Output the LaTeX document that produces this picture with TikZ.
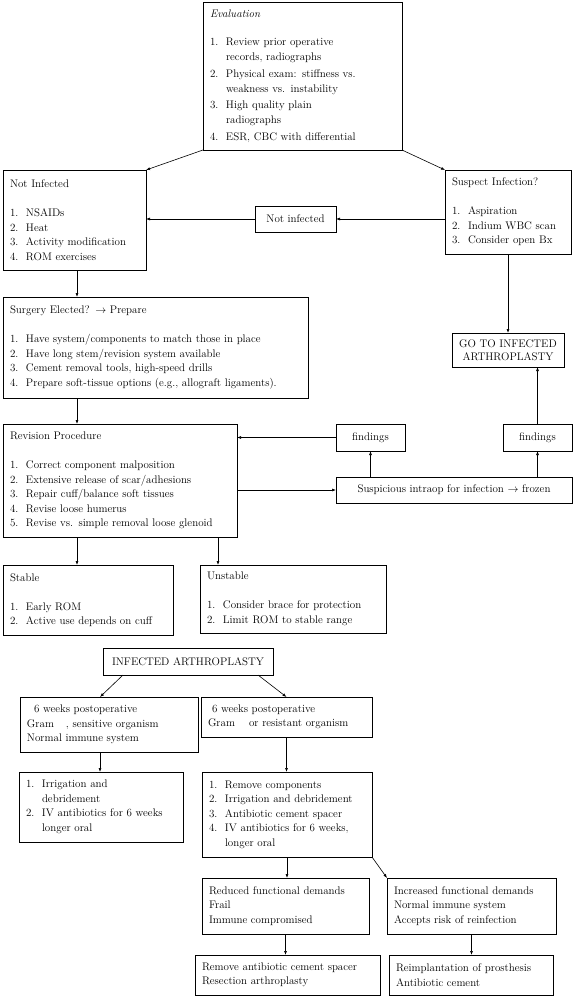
\documentclass[tikz,border=0pt]{standalone}
\usetikzlibrary{arrows.meta,calc}
\newcommand\fs{\fontsize{11}{14.5}\selectfont}
\newcommand\li[1]{\makebox[16pt][l]{#1}}
\newcommand\ci{\hspace*{16pt}}
\tikzset{
  box/.style={draw, line width=0.6pt, anchor=north west, inner xsep=7pt, inner ysep=2pt, align=left, font=\fs, outer sep=0pt},
  cbox/.style={draw, line width=0.6pt, anchor=north west, inner sep=2pt, align=center, font=\fs, outer sep=0pt},
  arr/.style={line width=0.6pt, -{Latex[length=4pt,width=3pt]}}
}
\begin{document}
\begin{tikzpicture}[x=1pt,y=-1pt]
\useasboundingbox (0,0) rectangle (575,1000);
% top part
\node[box, text width=185pt, minimum height=148pt, font=\fontsize{11}{15}\selectfont] (eval) at (203,2) {\textit{Evaluation}\\[13pt]
\li{1.}Review prior operative\\ \ci records, radiographs\\[1.5pt]
\li{2.}Physical exam: stiffness vs.\\ \ci weakness vs. instability\\[1.5pt]
\li{3.}High quality plain\\ \ci radiographs\\[1.5pt]
\li{4.}ESR, CBC with differential};
\node[box, text width=129pt, minimum height=100pt] (notinf) at (3,170) {Not Infected\\[14.5pt]
\li{1.}NSAIDs\\ \li{2.}Heat\\ \li{3.}Activity modification\\ \li{4.}ROM exercises};
\node[box, text width=112pt, minimum height=84pt] (susp) at (445,170) {Suspect Infection?\\[14.5pt]
\li{1.}Aspiration\\ \li{2.}Indium WBC scan\\ \li{3.}Consider open Bx};
\node[cbox, minimum width=81pt, minimum height=26pt] (nis) at (255,206) {Not infected};
\node[cbox, minimum width=112pt, minimum height=34pt, font=\fontsize{11}{13}\selectfont] (goto) at (452,333) {GO TO INFECTED\\ARTHROPLASTY};
\node[box, text width=291pt, minimum height=101pt] (surg) at (3,297) {Surgery Elected? $\rightarrow$ Prepare\\[14.5pt]
\li{1.}Have system/components to match those in place\\
\li{2.}Have long stem/revision system available\\
\li{3.}Cement removal tools, high-speed drills\\
\li{4.}Prepare soft-tissue options (e.g., allograft ligaments).};
\node[box, text width=220pt, minimum height=113pt] (rev) at (3,424) {Revision Procedure\\[14.5pt]
\li{1.}Correct component malposition\\
\li{2.}Extensive release of scar/adhesions\\
\li{3.}Repair cuff/balance soft tissues\\
\li{4.}Revise loose humerus\\
\li{5.}Revise vs. simple removal loose glenoid};
\node[cbox, minimum width=69pt, minimum height=27pt] (f1) at (336,424) {findings};
\node[cbox, minimum width=69pt, minimum height=27pt] (f2) at (503,424) {findings};
\node[cbox, minimum width=236pt, minimum height=26pt] (intra) at (336,477) {Suspicious intraop for infection $\rightarrow$ frozen};
\node[box, text width=156pt, minimum height=70pt] (stab) at (3,565) {Stable\\[14.5pt]
\li{1.}Early ROM\\ \li{2.}Active use depends on cuff};
\node[box, text width=172pt, minimum height=68pt] (unst) at (200,565) {Unstable\\[14.5pt]
\li{1.}Consider brace for protection\\ \li{2.}Limit ROM to stable range};
% bottom part
\node[cbox, minimum width=170pt, minimum height=27pt] (inf) at (103,648) {INFECTED ARTHROPLASTY};
\node[box, text width=164pt, minimum height=55pt] (six1) at (20,697) {\hspace*{7pt}6 weeks postoperative\\
Gram\hspace{12pt}, sensitive organism\\ Normal immune system};
\node[box, text width=157pt, minimum height=40pt] (six2) at (201,697) {\hspace*{4pt}6 weeks postoperative\\
Gram\hspace{14pt}or resistant organism};
\node[box, text width=150pt, minimum height=70pt] (irr) at (19,772) {\li{1.}Irrigation and\\ \ci debridement\\
\li{2.}IV antibiotics for 6 weeks\\ \ci longer oral};
\node[box, text width=156pt, minimum height=85pt] (rem) at (202,772) {\li{1.}Remove components\\
\li{2.}Irrigation and debridement\\ \li{3.}Antibiotic cement spacer\\
\li{4.}IV antibiotics for 6 weeks,\\ \ci longer oral};
\node[box, text width=153pt, minimum height=56pt] (red) at (202,878) {Reduced functional demands\\ Frail\\ Immune compromised};
\node[box, text width=155pt, minimum height=56pt] (inc) at (387,878) {Increased functional demands\\ Normal immune system\\ Accepts risk of reinfection};
\node[box, text width=171pt, minimum height=40pt] (spc) at (195,955) {Remove antibiotic cement spacer\\ Resection arthroplasty};
\node[box, text width=150pt, minimum height=40pt] (reimp) at (389,955) {Reimplantation of prosthesis\\ Antibiotic cement};
% coordinates
\coordinate (x77) at (77,0);
\coordinate (x218) at (218,0);
\coordinate (x100) at (100,0);
% connectors
\draw[arr] (eval.south west) -- (notinf.north east);
\draw[arr] (eval.south east) -- (susp.north west);
\draw[arr] (susp.west |- nis.east) -- (nis.east);
\draw[arr] (nis.west) -- (notinf.east |- nis.west);
\draw[arr] (susp.south) -- (goto.north -| susp.south);
\draw[arr] (notinf.south -| x77) -- (surg.north -| x77);
\draw[arr] (surg.south -| x77) -- (rev.north -| x77);
\draw[arr] (f1.west) -- (rev.east |- f1.west);
\draw[arr] (rev.east |- intra.west) -- (intra.west);
\draw[arr] (intra.north -| f1.south) -- (f1.south);
\draw[arr] (intra.north -| f2.south) -- (f2.south);
\draw[arr] (f2.north) -- (goto.south -| f2.north);
\draw[arr] (rev.south -| x77) -- (stab.north -| x77);
\draw[arr] (rev.south -| x218) -- (unst.north -| x218);
\draw[arr] ($(inf.south west)+(20,0)$) -- (six1.north -| x100);
\draw[arr] ($(inf.south east)+(-15,0)$) -- (six2.north);
\draw[arr] (six1.south -| x100) -- (irr.north -| x100);
\draw[arr] (six2.south) -- (rem.north -| six2.south);
\draw[arr] (rem.south) -- (red.north -| rem.south);
\draw[arr] (rem.south east) -- (inc.north west);
\draw[arr] (red.south) -- (spc.north -| red.south);
\draw[arr] (inc.south) -- (reimp.north -| inc.south);
\end{tikzpicture}
\end{document}
